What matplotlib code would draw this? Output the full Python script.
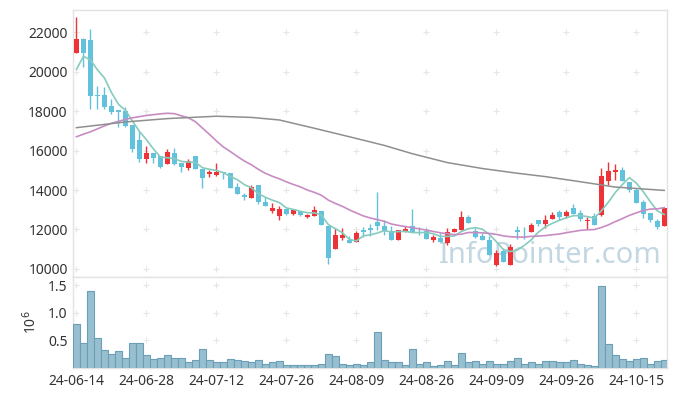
import numpy as np
import pandas as pd
import matplotlib
matplotlib.use("Agg")
import matplotlib.pyplot as plt

plt.rcParams['font.family'] = ['Noto Sans', 'DejaVu Sans']

# daily candles, 24-06-14 .. 24-10-21 (85 trading days)
opens = [20960, 21660, 21610, 18800, 18820, 18260, 18060, 18000, 17290, 16530,
         15580, 15870, 15730, 15330, 15870, 15380, 15130, 15730, 15080, 14820,
         14740, 14920, 14860, 14160, 13740, 13590, 14250, 13390, 12940, 12680,
         13030, 12790, 12930, 12640, 12680, 12930, 12170, 10990, 11560, 11490,
         11370, 11960, 12070, 12370, 12170, 11910, 11460, 11850, 12170, 11930,
         11910, 11460, 11560, 11300, 11860, 11960, 12620, 11910, 11660, 11460,
         10220, 10900, 10220, 11960, 11860, 11860, 12470, 12270, 12520, 12880,
         12680, 13080, 12830, 12420, 12680, 12730, 14450, 14910, 15010, 14400,
         14000, 13400, 12840, 12420, 12170]
highs = [22790, 21700, 22150, 19270, 19240, 18600, 18060, 18190, 17290, 16990,
         16230, 15870, 15730, 16080, 16130, 15380, 15580, 15730, 15080, 15020,
         15350, 14920, 14860, 14330, 13860, 14250, 14250, 13650, 13320, 13180,
         13030, 13030, 12930, 12780, 13180, 12930, 12170, 12070, 12070, 11660,
         11910, 12130, 12270, 13880, 12470, 12170, 11960, 12170, 13030, 12120,
         12070, 11710, 11810, 12070, 12070, 12930, 12730, 12070, 11810, 11660,
         10950, 11050, 11250, 12170, 12110, 12320, 12470, 12730, 12880, 12980,
         12980, 13280, 12980, 12620, 12830, 15110, 15400, 15310, 15180, 14400,
         14100, 13500, 12840, 12520, 13080]
lows = [20960, 20250, 18090, 18090, 18090, 17850, 17180, 17180, 15940, 15430,
        15350, 15350, 15120, 15330, 15280, 14890, 14990, 15080, 14110, 14670,
        14700, 14550, 14110, 13810, 13490, 13590, 13280, 13200, 12840, 12470,
        12730, 12730, 12680, 12560, 12680, 12220, 10270, 10990, 11460, 11290,
        11370, 11620, 11660, 11960, 11710, 11460, 11460, 11850, 11860, 11710,
        11510, 11340, 11360, 11200, 11860, 11960, 12320, 11590, 11460, 10700,
        10140, 10340, 10220, 11510, 11510, 11860, 12170, 12070, 12520, 12470,
        12570, 12780, 12420, 12020, 12220, 12680, 14250, 14530, 14450, 13900,
        13350, 12580, 12370, 12020, 12170]
closes = [21660, 20960, 18780, 18780, 18220, 17970, 17970, 17240, 16090, 15580,
          15870, 15630, 15180, 15920, 15330, 15180, 15480, 15080, 14590, 14920,
          14920, 14860, 14110, 13810, 13650, 14130, 13370, 13200, 13080, 13030,
          12780, 12980, 12730, 12730, 12980, 12220, 10560, 11710, 11710, 11290,
          11810, 11860, 11960, 12170, 11910, 11460, 11960, 12020, 11860, 11900,
          11510, 11610, 11360, 11860, 12020, 12620, 12320, 11640, 11460, 10700,
          10800, 10340, 11100, 11860, 11850, 12220, 12270, 12470, 12730, 12620,
          12880, 12780, 12520, 12470, 12220, 14710, 14960, 15010, 14450, 14000,
          13350, 12780, 12470, 12120, 13080]
volumes = [0.79, 0.46, 1.39, 0.55, 0.32, 0.26, 0.30, 0.19, 0.46, 0.45,
           0.23, 0.17, 0.19, 0.23, 0.19, 0.19, 0.10, 0.14, 0.34, 0.14,
           0.10, 0.10, 0.17, 0.15, 0.12, 0.10, 0.14, 0.08, 0.10, 0.12,
           0.06, 0.06, 0.06, 0.06, 0.06, 0.08, 0.26, 0.21, 0.08, 0.06,
           0.08, 0.06, 0.10, 0.66, 0.14, 0.10, 0.10, 0.06, 0.35, 0.08,
           0.10, 0.04, 0.06, 0.12, 0.06, 0.28, 0.10, 0.12, 0.08, 0.12,
           0.08, 0.08, 0.12, 0.19, 0.08, 0.10, 0.08, 0.12, 0.12, 0.10,
           0.10, 0.14, 0.08, 0.06, 0.04, 1.48, 0.44, 0.23, 0.17, 0.12,
           0.17, 0.19, 0.08, 0.12, 0.15]

# closes before the window (for the first 5-day averages)
prior_closes = [17660, 19730, 21280, 20270]
# 20-day average for the first 19 days
ma20_early = [16700, 16830, 16950, 17100, 17250, 17380, 17480, 17580, 17660, 17720,
              17780, 17820, 17860, 17890, 17870, 17760, 17660, 17460, 17140]
# long average (gray)
ma_long_idx = [0, 7, 13, 20, 25, 29, 34, 39, 44, 48, 53, 58, 63, 67, 72, 77, 84]
ma_long_val = [17160, 17450, 17620, 17740, 17680, 17550, 17130, 16700, 16260, 15840,
               15390, 15090, 14850, 14680, 14420, 14150, 13980]

tick_labels = ['24-06-14', '24-06-28', '24-07-12', '24-07-26', '24-08-09',
               '24-08-26', '24-09-09', '24-09-26', '24-10-15']

df = pd.DataFrame({'open': opens, 'high': highs, 'low': lows, 'close': closes, 'vol': volumes})
x = np.arange(len(df))

all_close = pd.Series(prior_closes + closes)
ma5 = all_close.rolling(5).mean().iloc[len(prior_closes):].values
ma20 = df['close'].rolling(20).mean().values
ma20[:len(ma20_early)] = ma20_early

UP = '#ee3338'
DOWN = '#62c1db'
GRID = '#e6e6e6'
EDGE = '#e3e3e3'

fig = plt.figure(figsize=(6.77, 3.96), dpi=100)
ax = fig.add_axes([0.1083, 0.30, 0.877, 0.675])
axv = fig.add_axes([0.1083, 0.0707, 0.877, 0.2293], sharex=ax)

up = df['close'] >= df['open']
colors = np.where(up, UP, DOWN)
ax.vlines(x, df['low'], df['high'], colors=colors, linewidth=1.0, zorder=3)
body_bottom = np.minimum(df['open'], df['close'])
body_h = np.maximum(np.abs(df['close'] - df['open']), 40)
ax.bar(x, body_h, bottom=body_bottom, width=0.72, color=colors, linewidth=0, zorder=4)

ax.plot(x, ma5, color='#86cbbd', linewidth=1.2, zorder=5)
ax.plot(x, ma20, color='#c88cc3', linewidth=1.2, zorder=5)
ax.plot(ma_long_idx, ma_long_val, color='#8f8f8f', linewidth=1.1, zorder=5)

# watermark behind the candles
ax.text(0.804, 0.082, 'InfoPointer.com', transform=ax.transAxes, ha='center', va='center',
        fontsize=21, color='#c3d7e2', zorder=2)

ax.set_ylim(9580, 23130)
ax.set_xlim(-0.45, 84.4)
yt = np.arange(10000, 22001, 2000)
ax.set_yticks(yt)
ax.set_yticklabels([str(v) for v in yt])

axv.bar(x, df['vol'], width=1.0, color='#97bfcf', edgecolor='#6a9fb7', linewidth=0.8, zorder=3)
axv.set_ylim(0, 1.645)
axv.set_yticks([0.5, 1.0, 1.5])
axv.set_yticklabels(['0.5', '1.0', '1.5'])
axv.set_ylabel('10$^6$', fontsize=10, color='#333333', labelpad=6)

xt = np.arange(0, 81, 10)
axv.set_xticks(xt)
axv.set_xticklabels(tick_labels)
plt.setp(ax.get_xticklabels(), visible=False)

# '+' grid marks
gx, gy = np.meshgrid(xt, yt)
ax.scatter(gx.ravel(), gy.ravel(), marker='+', s=20, color=GRID, linewidths=0.8, zorder=1)
gx, gy = np.meshgrid(xt, [0.5, 1.0, 1.5])
axv.scatter(gx.ravel(), gy.ravel(), marker='+', s=20, color=GRID, linewidths=0.8, zorder=1)

for a in (ax, axv):
    a.tick_params(length=0, labelsize=10, labelcolor='#333333', pad=4)
    for s in a.spines.values():
        s.set_color(EDGE)
        s.set_linewidth(1.0)

fig.savefig('out.png', dpi=100)
